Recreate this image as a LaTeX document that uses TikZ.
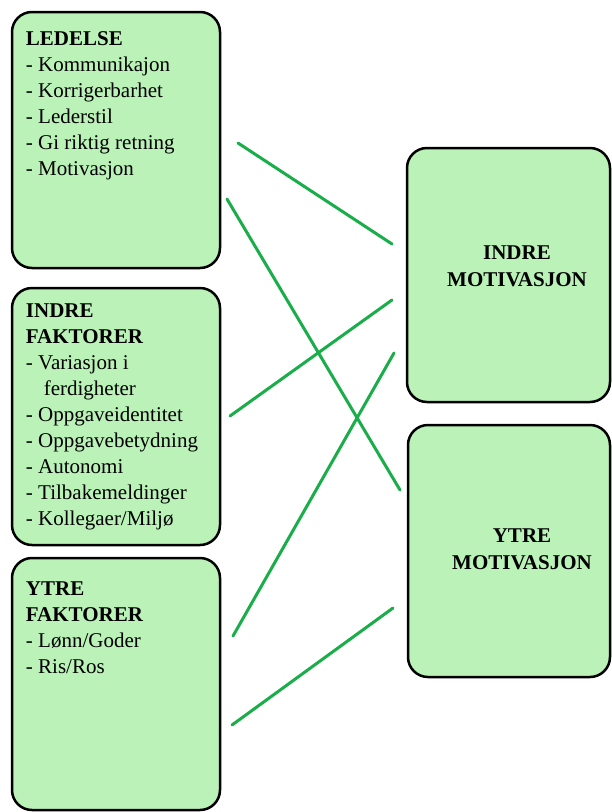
\documentclass[tikz,border=0pt]{standalone}
\usepackage{fontspec}
\setmainfont{Liberation Serif}
\usepackage{xcolor}

\definecolor{cardgreen}{RGB}{186,242,184}
\definecolor{linkgreen}{RGB}{26,174,74}

\begin{document}
\begin{tikzpicture}[x=1pt, y=-1pt,
    card/.style={rectangle, draw=black, line width=2.5pt, fill=cardgreen, rounded corners=20pt, inner sep=0pt},
    cardtext/.style={anchor=north west, inner sep=0pt, align=left, font=\fontsize{21}{26}\selectfont},
    cardtitle/.style={anchor=north, inner sep=0pt, align=center, font=\fontsize{21}{27}\selectfont\bfseries},
    link/.style={draw=linkgreen, line width=3pt, line cap=round}]
        \useasboundingbox (0,0) rectangle (612,812);

        % Nodes
        \node[card, minimum width=208pt, minimum height=256pt] (ledelse) at (116, 140) {};
        \node[card, minimum width=208pt, minimum height=257pt] (indrefak) at (116, 416.5) {};
        \node[card, minimum width=208pt, minimum height=252pt] (ytrefak) at (116, 684) {};
        \node[card, minimum width=203pt, minimum height=254pt] (indremot) at (508.5, 275) {};
        \node[card, minimum width=202pt, minimum height=252pt] (ytremot) at (509, 551) {};

        % Labels
        \node[cardtext] (ledelse-txt) at ([shift={(15,21)}]ledelse.north west)
            {\textbf{LEDELSE}\\- Kommunikajon\\- Korrigerbarhet\\- Lederstil\\- Gi riktig retning\\- Motivasjon};
        \node[cardtext] (indrefak-txt) at ([shift={(15,17)}]indrefak.north west)
            {\textbf{INDRE}\\\textbf{FAKTORER}\\- Variasjon i\\\hspace*{0.85em}ferdigheter\\- Oppgaveidentitet\\- Oppgavebetydning\\- Autonomi\\- Tilbakemeldinger\\- Kollegaer/Miljø};
        \node[cardtext] (ytrefak-txt) at ([shift={(15,25)}]ytrefak.north west)
            {\textbf{YTRE}\\\textbf{FAKTORER}\\- Lønn/Goder\\- Ris/Ros};
        \node[cardtitle] (indremot-txt) at (517, 246) {INDRE\\MOTIVASJON};
        \node[cardtitle] (ytremot-txt) at (522, 529) {YTRE\\MOTIVASJON};

        % Edges
        \coordinate (led-a) at (238, 143);
        \coordinate (led-b) at (227, 199);
        \coordinate (ifk-a) at (230, 416);
        \coordinate (yfk-a) at (233, 636);
        \coordinate (yfk-b) at (232, 725);
        \coordinate (imot-a) at (392, 244);
        \coordinate (imot-b) at (392, 300);
        \coordinate (imot-c) at (394, 353);
        \coordinate (ymot-a) at (400, 490);
        \coordinate (ymot-b) at (393, 608);
        \draw[link] (led-a) -- (imot-a);
        \draw[link] (led-b) -- (ymot-a);
        \draw[link] (ifk-a) -- (imot-b);
        \draw[link] (yfk-a) -- (imot-c);
        \draw[link] (yfk-b) -- (ymot-b);
    \end{tikzpicture}
\end{document}
